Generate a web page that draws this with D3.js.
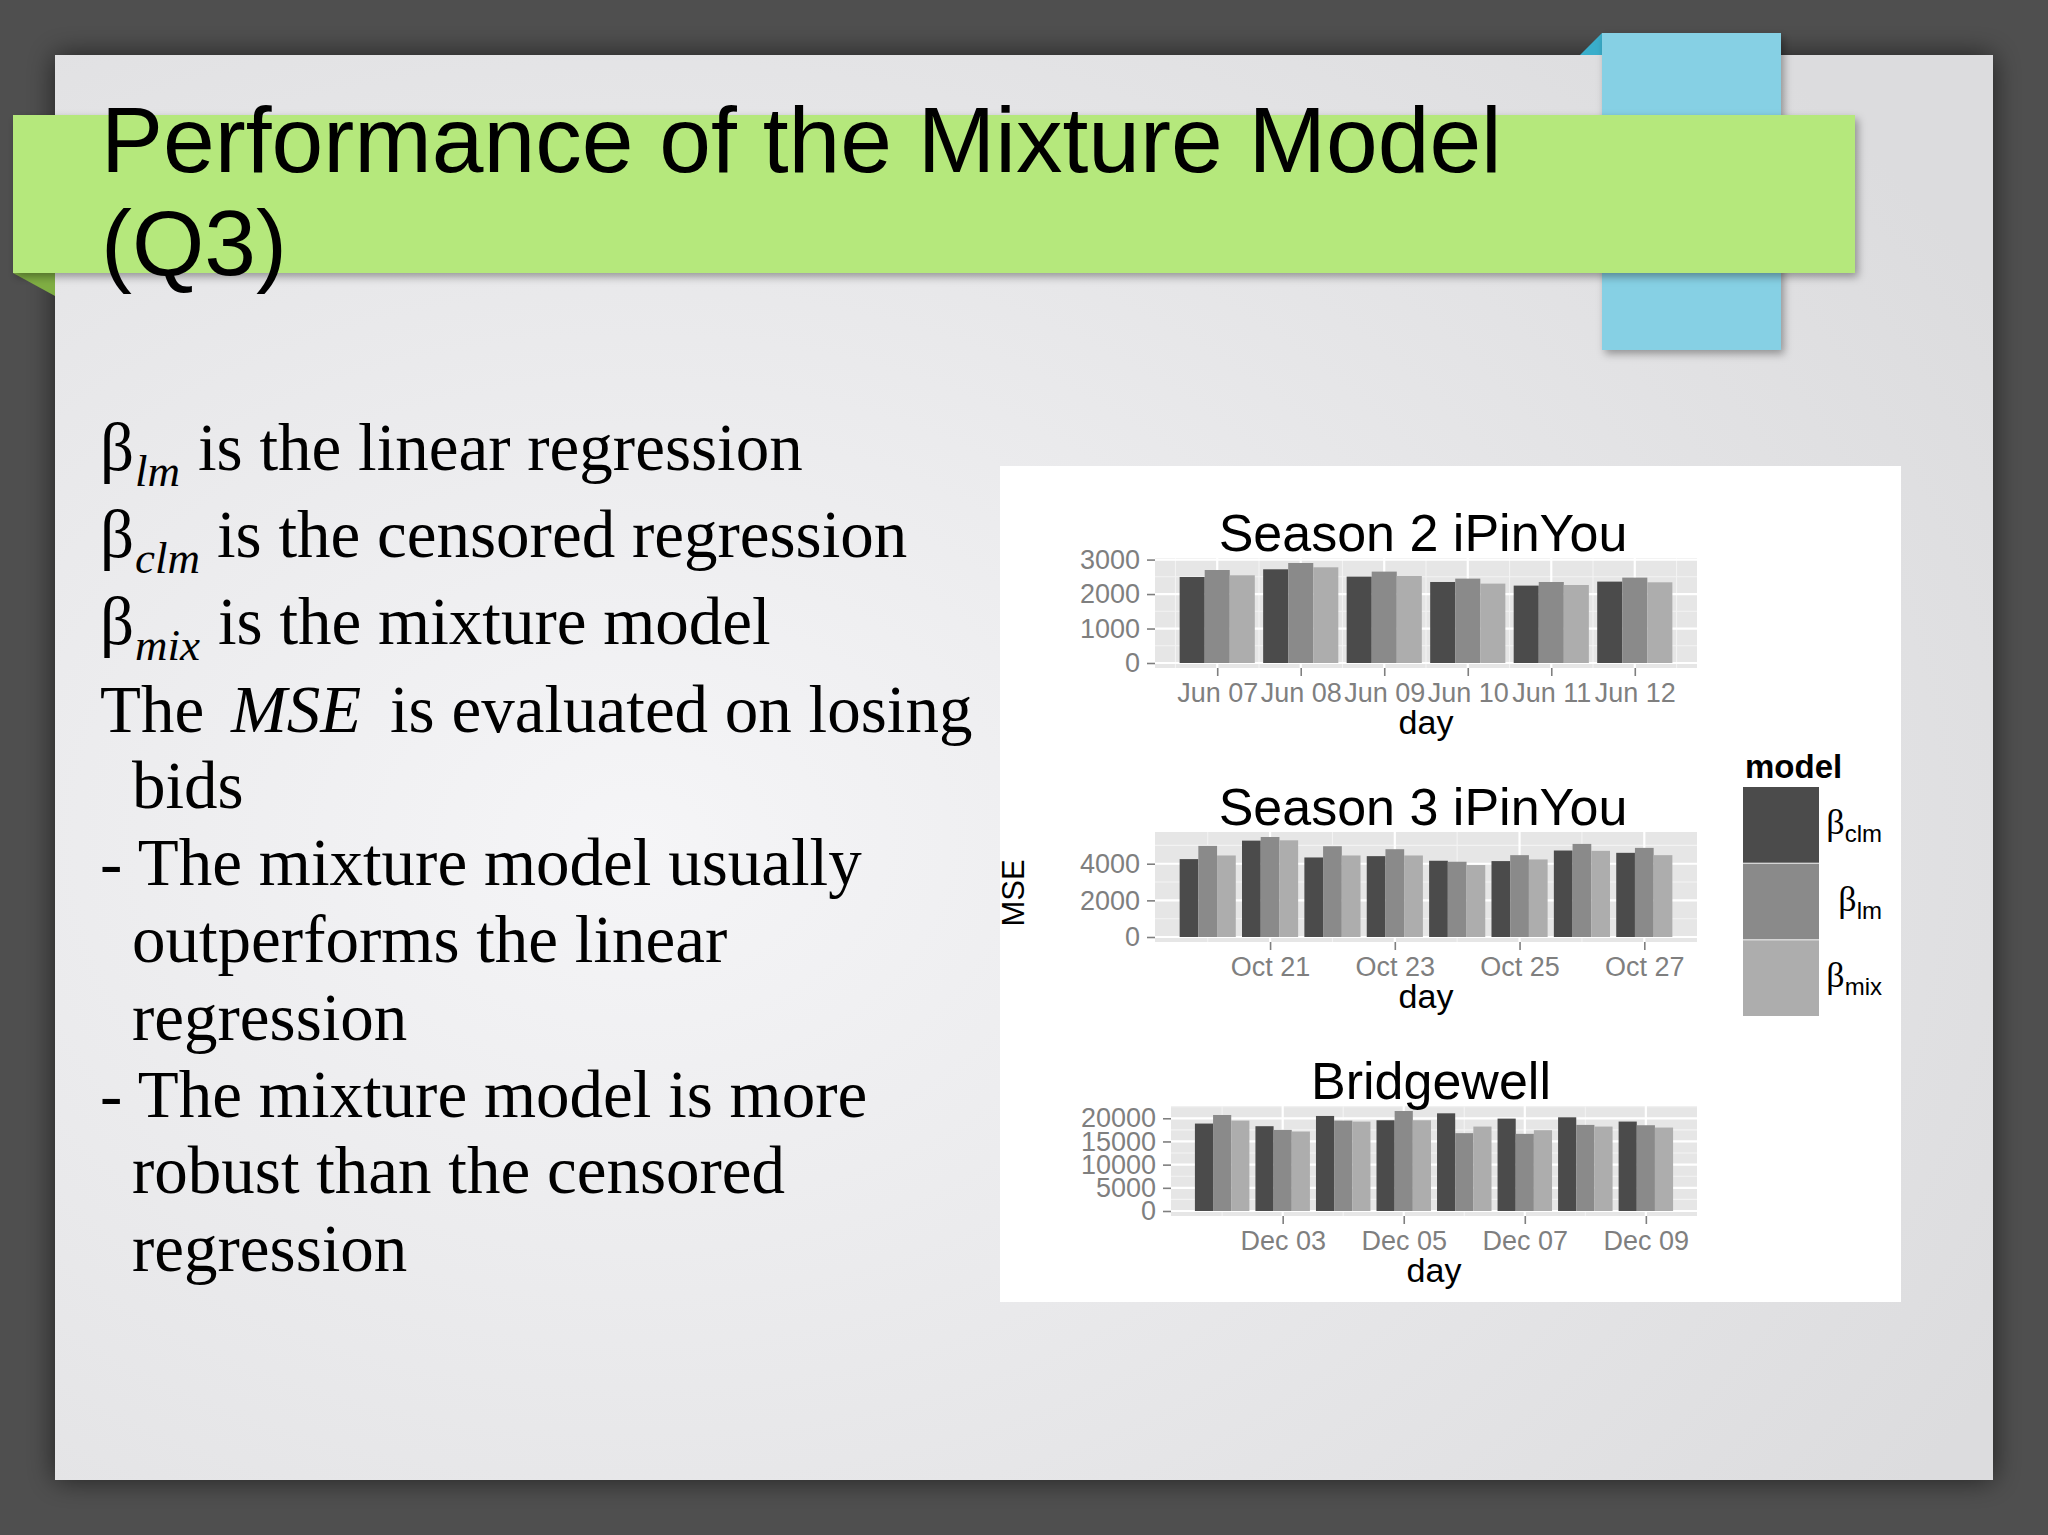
<!DOCTYPE html>
<html><head><meta charset="utf-8">
<script src="https://cdn.jsdelivr.net/npm/d3@7"></script>
<style>
body{margin:0;background:#4f4f4f;overflow:hidden}
svg{display:block}
</style>
</head><body>
<svg id="s" width="2048" height="1535"></svg>
<script>
// ---------------- DATA ----------------
const models = ["clm", "lm", "mix"];
const modelColors = ["#4b4b4b", "#8a8a8a", "#adadad"];

const days1 = ["2013-06-07","2013-06-08","2013-06-09","2013-06-10","2013-06-11","2013-06-12"];
const clm1 = [2495, 2718, 2506, 2350, 2245, 2361];
const lm1  = [2698, 2901, 2651, 2448, 2350, 2477];
const mix1 = [2544, 2776, 2524, 2303, 2263, 2341];
const xTicks1 = ["2013-06-07","2013-06-08","2013-06-09","2013-06-10","2013-06-11","2013-06-12"];
const yTicks1 = [0, 1000, 2000, 3000];

const days2 = ["2013-10-20","2013-10-21","2013-10-22","2013-10-23","2013-10-24","2013-10-25","2013-10-26","2013-10-27"];
const clm2 = [4252, 5261, 4342, 4414, 4162, 4144, 4721, 4595];
const lm2  = [4973, 5459, 4955, 4793, 4108, 4468, 5081, 4865];
const mix2 = [4450, 5279, 4450, 4450, 3928, 4234, 4703, 4468];
const xTicks2 = ["2013-10-21","2013-10-23","2013-10-25","2013-10-27"];
const yTicks2 = [0, 2000, 4000];

const days3 = ["2013-12-02","2013-12-03","2013-12-04","2013-12-05","2013-12-06","2013-12-07","2013-12-08","2013-12-09"];
const clm3 = [18860, 18290, 20500, 19570, 21070, 19930, 20210, 19290];
const lm3  = [20710, 17500, 19500, 21570, 16790, 16640, 18570, 18500];
const mix3 = [19500, 17140, 19290, 19570, 18210, 17430, 18210, 18000];
const xTicks3 = ["2013-12-03","2013-12-05","2013-12-07","2013-12-09"];
const yTicks3 = [0, 5000, 10000, 15000, 20000];

const panelTitles = ["Season 2 iPinYou", "Season 3 iPinYou", "Bridgewell"];

// ---------------- DRAW ----------------
const svg = d3.select("#s");
const defs = svg.append("defs");

const bgGrad = defs.append("radialGradient").attr("id","slideGrad")
  .attr("cx","30%").attr("cy","55%").attr("r","80%");
bgGrad.append("stop").attr("offset","0%").attr("stop-color","#f5f5f7");
bgGrad.append("stop").attr("offset","100%").attr("stop-color","#dcdcde");

const sh = defs.append("filter").attr("id","shadow").attr("x","-10%").attr("y","-10%").attr("width","130%").attr("height","130%");
sh.append("feDropShadow").attr("dx",3).attr("dy",4).attr("stdDeviation",4).attr("flood-color","#000").attr("flood-opacity",0.35);
const sh2 = defs.append("filter").attr("id","slideShadow").attr("x","-5%").attr("y","-5%").attr("width","110%").attr("height","110%");
sh2.append("feDropShadow").attr("dx",0).attr("dy",0).attr("stdDeviation",14).attr("flood-color","#000").attr("flood-opacity",0.6);

svg.append("rect").attr("width",2048).attr("height",1535).attr("fill","#4f4f4f");
svg.append("rect").attr("x",55).attr("y",55).attr("width",1938).attr("height",1425)
  .attr("fill","url(#slideGrad)").attr("filter","url(#slideShadow)");

// blue tab
svg.append("path").attr("d","M1580,55 L1602,33 L1602,55 Z").attr("fill","#3aaecb");
svg.append("rect").attr("x",1602).attr("y",33).attr("width",179).attr("height",317)
  .attr("fill","#86d0e4").attr("filter","url(#shadow)");
// green band
svg.append("path").attr("d","M13,273 L55,273 L55,296 Z").attr("fill","#7fae43");
svg.append("rect").attr("x",13).attr("y",115).attr("width",1842).attr("height",158)
  .attr("fill","#b5e87c").attr("filter","url(#shadow)");

const titleG = svg.append("g").attr("font-family","'Liberation Sans', Arial, sans-serif")
  .attr("font-size",93).attr("fill","#000");
titleG.append("text").attr("x",101).attr("y",172).text("Performance of the Mixture Model");
titleG.append("text").attr("x",101).attr("y",275).text("(Q3)");

// left bullet text
const tg = svg.append("g").attr("font-family","'Liberation Serif', 'Times New Roman', serif")
  .attr("font-size",67).attr("fill","#000");
function betaLine(y, sub, rest, restX){
  const t = tg.append("text").attr("y",y);
  t.append("tspan").attr("x",100).text("β");
  t.append("tspan").attr("x",135).attr("dy",16).attr("font-style","italic").attr("font-size",45).text(sub);
  t.append("tspan").attr("x",restX).attr("dy",-16).text(rest);
}
betaLine(470, "lm", "is the linear regression", 198);
betaLine(557, "clm", "is the censored regression", 217);
betaLine(644, "mix", "is the mixture model", 218);
{
  const t = tg.append("text").attr("y",732);
  t.append("tspan").attr("x",100).text("The");
  t.append("tspan").attr("x",231).attr("font-style","italic").text("MSE");
  t.append("tspan").attr("x",390).text("is evaluated on losing");
}
const plainLines = [
  [132, 808, "bids"],
  [100, 885, "- The mixture model usually"],
  [132, 962, "outperforms the linear"],
  [132, 1040, "regression"],
  [100, 1117, "- The mixture model is more"],
  [132, 1193, "robust than the censored"],
  [132, 1271, "regression"]
];
plainLines.forEach(([x,y,s]) => tg.append("text").attr("x",x).attr("y",y).text(s));

// chart background
svg.append("rect").attr("x",1000).attr("y",466).attr("width",901).attr("height",836).attr("fill","#ffffff");

const chart = svg.append("g").attr("font-family","'Liberation Sans', Arial, Helvetica, sans-serif");
const parse = d3.utcParse("%Y-%m-%d");
const fmt = d3.utcFormat("%b %d");
const DAY = 864e5;

const panels = [
  {left:1155, right:1697, top:558, bottom:668},
  {left:1155, right:1697, top:832, bottom:942},
  {left:1171, right:1697, top:1106, bottom:1216}
];
const datasets = [
  {days:days1, series:[clm1, lm1, mix1], xt:xTicks1, yt:yTicks1},
  {days:days2, series:[clm2, lm2, mix2], xt:xTicks2, yt:yTicks2},
  {days:days3, series:[clm3, lm3, mix3], xt:xTicks3, yt:yTicks3}
];

function drawPanel(p, d, title){
  const g = chart.append("g");
  const dates = d.days.map(parse);
  const lo = +dates[0] - 0.45*DAY, hi = +dates[dates.length-1] + 0.45*DAY;
  const pad = (hi - lo) * 0.05;
  const x = d3.scaleUtc().domain([new Date(lo-pad), new Date(hi+pad)]).range([p.left, p.right]);
  const ymax = d3.max(d.series.flat());
  const y = d3.scaleLinear().domain([-0.05*ymax, 1.05*ymax]).range([p.bottom, p.top]);
  const dom = y.domain();

  g.append("rect").attr("x",p.left).attr("y",p.top).attr("width",p.right-p.left)
    .attr("height",p.bottom-p.top).attr("fill","#e6e6e6");

  // minor y grid
  const ys = d.yt[1]-d.yt[0];
  const yMinor = d3.range(d.yt[0]-ys/2, dom[1], ys).filter(v => v>dom[0] && v<dom[1]);
  g.selectAll(null).data(yMinor).join("line")
    .attr("x1",p.left).attr("x2",p.right).attr("y1",v=>y(v)).attr("y2",v=>y(v))
    .attr("stroke","#f3f3f3").attr("stroke-width",1.1);
  // minor x grid
  const xt = d.xt.map(parse);
  const xs = (+xt[1]) - (+xt[0]);
  const xMinor = d3.range(+xt[0]-xs/2, +x.domain()[1], xs).map(v=>new Date(v))
    .filter(v => v>x.domain()[0] && v<x.domain()[1]);
  g.selectAll(null).data(xMinor).join("line")
    .attr("y1",p.top).attr("y2",p.bottom).attr("x1",v=>x(v)).attr("x2",v=>x(v))
    .attr("stroke","#f3f3f3").attr("stroke-width",1.1);
  // major grid
  g.selectAll(null).data(d.yt).join("line")
    .attr("x1",p.left).attr("x2",p.right).attr("y1",v=>y(v)).attr("y2",v=>y(v))
    .attr("stroke","#ffffff").attr("stroke-width",2.2);
  g.selectAll(null).data(xt).join("line")
    .attr("y1",p.top).attr("y2",p.bottom).attr("x1",v=>x(v)).attr("x2",v=>x(v))
    .attr("stroke","#ffffff").attr("stroke-width",2.2);

  // bars
  const bw = x(new Date(+dates[0] + 0.3*DAY)) - x(dates[0]);
  d.series.forEach((vals, si) => {
    g.selectAll(null).data(vals.map((v,i)=>({v, date:dates[i]}))).join("rect")
      .attr("x", e => x(new Date(+e.date + (-0.45 + 0.3*si)*DAY)))
      .attr("width", bw)
      .attr("y", e => y(e.v))
      .attr("height", e => y(0) - y(e.v))
      .attr("fill", modelColors[si]);
  });

  // axes
  const ya = g.append("g").attr("transform",`translate(${p.left},0)`)
    .call(d3.axisLeft(y).tickValues(d.yt).tickSize(8).tickPadding(7).tickFormat(d3.format("d")));
  const xa = g.append("g").attr("transform",`translate(0,${p.bottom})`)
    .call(d3.axisBottom(x).tickValues(xt).tickSize(8).tickPadding(7).tickFormat(fmt));
  [ya, xa].forEach(a => {
    a.select(".domain").remove();
    a.selectAll("line").attr("stroke","#7f7f7f").attr("stroke-width",1.6);
    a.selectAll("text").attr("fill","#7f7f7f").attr("font-size",27)
      .attr("font-family","'Liberation Sans', Arial, sans-serif");
  });

  const cx = (p.left + p.right)/2;
  g.append("text").attr("x",cx-3).attr("y",p.top-7).attr("text-anchor","middle")
    .attr("font-size",52).attr("fill","#000").text(title);
  g.append("text").attr("x",cx).attr("y",p.bottom+66).attr("text-anchor","middle")
    .attr("font-size",34).attr("fill","#000").text("day");
}
panels.forEach((p,i) => drawPanel(p, datasets[i], panelTitles[i]));

chart.append("text").attr("transform","translate(1024,893) rotate(-90)").attr("text-anchor","middle")
  .attr("font-size",31).attr("fill","#000").text("MSE");

// legend
const lg = chart.append("g");
lg.append("text").attr("x",1745).attr("y",778).attr("font-size",33).attr("font-weight","bold")
  .attr("fill","#000").text("model");
const ky = d3.scaleBand().domain(models).range([787, 1016]).paddingInner(0.012);
models.forEach((m,i) => {
  lg.append("rect").attr("x",1743).attr("y",ky(m)).attr("width",76).attr("height",ky.bandwidth())
    .attr("fill",modelColors[i]);
  const t = lg.append("text").attr("x",1882).attr("y",ky(m)+ky.bandwidth()/2+9)
    .attr("text-anchor","end").attr("fill","#000");
  t.append("tspan").attr("font-family","'Liberation Serif', serif").attr("font-size",36).text("β");
  t.append("tspan").attr("dy",8).attr("font-size",24).text(m);
});
</script>
</body></html>
